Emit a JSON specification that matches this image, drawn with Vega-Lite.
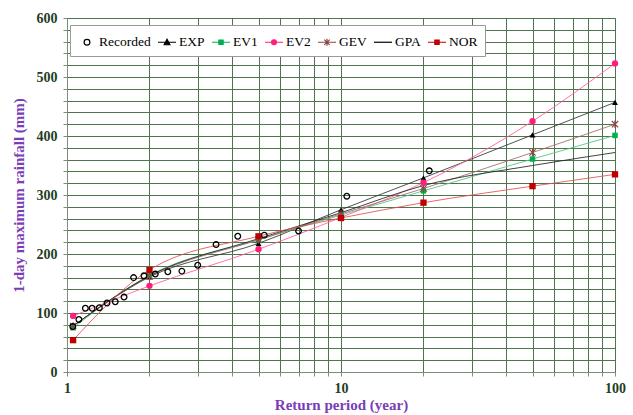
{
  "$schema": "https://vega.github.io/schema/vega-lite/v6.json",
  "width": 548,
  "height": 354,
  "autosize": {"type": "none"},
  "padding": {"left": 67, "top": 18, "right": 18, "bottom": 43},
  "background": "white",
  "datasets": {
    "fitted": [
      {"T": 1.0526, "value": 78, "series": "EXP"},
      {"T": 2, "value": 161, "series": "EXP"},
      {"T": 5, "value": 218, "series": "EXP"},
      {"T": 10, "value": 275, "series": "EXP"},
      {"T": 20, "value": 329, "series": "EXP"},
      {"T": 50, "value": 402, "series": "EXP"},
      {"T": 100, "value": 457, "series": "EXP"},
      {"T": 1.0526, "value": 75, "series": "EV1"},
      {"T": 2, "value": 164, "series": "EV1"},
      {"T": 5, "value": 224, "series": "EV1"},
      {"T": 10, "value": 266, "series": "EV1"},
      {"T": 20, "value": 307, "series": "EV1"},
      {"T": 50, "value": 361, "series": "EV1"},
      {"T": 100, "value": 401, "series": "EV1"},
      {"T": 1.0526, "value": 95, "series": "EV2"},
      {"T": 2, "value": 146, "series": "EV2"},
      {"T": 5, "value": 208, "series": "EV2"},
      {"T": 10, "value": 262, "series": "EV2"},
      {"T": 20, "value": 321, "series": "EV2"},
      {"T": 50, "value": 425, "series": "EV2"},
      {"T": 100, "value": 523, "series": "EV2"},
      {"T": 1.0526, "value": 78, "series": "GEV"},
      {"T": 2, "value": 162, "series": "GEV"},
      {"T": 5, "value": 224, "series": "GEV"},
      {"T": 10, "value": 268, "series": "GEV"},
      {"T": 20, "value": 311, "series": "GEV"},
      {"T": 50, "value": 372, "series": "GEV"},
      {"T": 100, "value": 420, "series": "GEV"},
      {"T": 1.0526, "value": 78, "series": "GPA"},
      {"T": 2, "value": 163, "series": "GPA"},
      {"T": 5, "value": 226, "series": "GPA"},
      {"T": 10, "value": 270, "series": "GPA"},
      {"T": 20, "value": 316, "series": "GPA"},
      {"T": 50, "value": 350, "series": "GPA"},
      {"T": 100, "value": 372, "series": "GPA"},
      {"T": 1.0526, "value": 54, "series": "NOR"},
      {"T": 2, "value": 173, "series": "NOR"},
      {"T": 5, "value": 230, "series": "NOR"},
      {"T": 10, "value": 261, "series": "NOR"},
      {"T": 20, "value": 287, "series": "NOR"},
      {"T": 50, "value": 315, "series": "NOR"},
      {"T": 100, "value": 335, "series": "NOR"}
    ],
    "recorded": [
      {"T": 1.05, "value": 77},
      {"T": 1.105, "value": 89},
      {"T": 1.167, "value": 108},
      {"T": 1.235, "value": 108},
      {"T": 1.3125, "value": 109},
      {"T": 1.4, "value": 117},
      {"T": 1.5, "value": 119},
      {"T": 1.615, "value": 127},
      {"T": 1.75, "value": 160},
      {"T": 1.909, "value": 163},
      {"T": 2.1, "value": 166},
      {"T": 2.333, "value": 170},
      {"T": 2.625, "value": 171},
      {"T": 3, "value": 181},
      {"T": 3.5, "value": 216},
      {"T": 4.2, "value": 230},
      {"T": 5.25, "value": 232},
      {"T": 7, "value": 239},
      {"T": 10.5, "value": 298},
      {"T": 21, "value": 341}
    ],
    "legendrows": [
      {"series": "Recorded"},
      {"series": "EXP"},
      {"series": "EV1"},
      {"series": "EV2"},
      {"series": "GEV"},
      {"series": "GPA"},
      {"series": "NOR"}
    ]
  },
  "encoding": {
    "x": {
      "field": "T",
      "type": "quantitative",
      "scale": {"type": "log", "domain": [1, 100], "nice": false},
      "axis": {
        "title": "Return period (year)",
        "values": [1, 2, 3, 4, 5, 6, 7, 8, 9, 10, 20, 30, 40, 50, 60, 70, 80, 90, 100],
        "labelExpr": "indexof([1, 10, 100], datum.value) >= 0 ? format(datum.value, 'd') : ''",
        "labelOverlap": false,
        "labelFlush": false,
        "labelPadding": 5,
        "titlePadding": 2,
        "tickSize": 4
      }
    },
    "y": {
      "field": "value",
      "type": "quantitative",
      "scale": {"domain": [0, 600], "nice": false},
      "axis": {
        "title": "1-day maximum rainfall (mm)",
        "values": [0, 20, 40, 60, 80, 100, 120, 140, 160, 180, 200, 220, 240, 260, 280, 300, 320, 340, 360, 380, 400, 420, 440, 460, 480, 500, 520, 540, 560, 580, 600],
        "labelExpr": "datum.value % 100 == 0 ? format(datum.value, 'd') : ''",
        "labelOverlap": false,
        "labelPadding": 6,
        "titlePadding": 10,
        "tickSize": 4
      }
    }
  },
  "layer": [
    {
      "data": {"name": "fitted"},
      "mark": {"type": "line", "interpolate": "monotone", "strokeWidth": 1, "opacity": 0.85},
      "encoding": {
        "color": {
          "field": "series",
          "type": "nominal",
          "scale": {
            "domain": ["EXP", "EV1", "EV2", "GEV", "GPA", "NOR"],
            "range": ["#333333", "#4cc47c", "#ff5c9a", "#a06a6a", "#222222", "#e05050"]
          },
          "legend": null
        }
      }
    },
    {
      "data": {"name": "fitted"},
      "transform": [{"filter": "datum.series == 'EXP'"}],
      "mark": {"type": "point", "shape": "triangle-up", "filled": true, "size": 35, "color": "#000000", "opacity": 1}
    },
    {
      "data": {"name": "fitted"},
      "transform": [{"filter": "datum.series == 'EV1'"}],
      "mark": {"type": "point", "shape": "square", "filled": true, "size": 30, "color": "#00b050", "opacity": 1}
    },
    {
      "data": {"name": "fitted"},
      "transform": [{"filter": "datum.series == 'GEV'"}],
      "mark": {"type": "point", "shape": "M-1,-1L1,1M-1,1L1,-1M0,-1.2V1.2", "filled": false, "size": 40, "color": "#8b4545", "strokeWidth": 1.2, "opacity": 1}
    },
    {
      "data": {"name": "fitted"},
      "transform": [{"filter": "datum.series == 'EV2'"}],
      "mark": {"type": "point", "shape": "circle", "filled": true, "size": 40, "color": "#ff1f7a", "opacity": 1}
    },
    {
      "data": {"name": "fitted"},
      "transform": [{"filter": "datum.series == 'NOR'"}],
      "mark": {"type": "point", "shape": "square", "filled": true, "size": 40, "color": "#c00000", "opacity": 1}
    },
    {
      "data": {"name": "recorded"},
      "mark": {"type": "point", "shape": "circle", "filled": false, "size": 32, "color": "#000000", "strokeWidth": 1.3, "opacity": 1}
    },
    {
      "data": {"name": "legendrows"},
      "transform": [{"filter": "false"}],
      "mark": {"type": "point", "filled": true, "opacity": 1, "strokeWidth": 1.2},
      "encoding": {
        "shape": {
          "field": "series",
          "type": "nominal",
          "scale": {
            "domain": ["Recorded", "EXP", "EV1", "EV2", "GEV", "GPA", "NOR"],
            "range": [
              "M0.32,0A0.32,0.32,0,1,1,-0.32,0A0.32,0.32,0,1,1,0.32,0Z",
              "M-1,0H1M-0.32,0.28L0,-0.32L0.32,0.28Z",
              "M-1,0H1M-0.24,-0.24H0.24V0.24H-0.24Z",
              "M-1,0H1M0.27,0A0.27,0.27,0,1,1,-0.27,0A0.27,0.27,0,1,1,0.27,0Z",
              "M-1,0H1M-0.3,-0.3L0.3,0.3M-0.3,0.3L0.3,-0.3M0,-0.38V0.38",
              "M-1,0H1",
              "M-1,0H1M-0.24,-0.24H0.24V0.24H-0.24Z"
            ]
          },
          "legend": {"title": null}
        },
        "fill": {
          "field": "series",
          "type": "nominal",
          "scale": {
            "domain": ["Recorded", "EXP", "EV1", "EV2", "GEV", "GPA", "NOR"],
            "range": ["#ffffff", "#000000", "#00b050", "#ff1f7a", "#8b4545", "#000000", "#c00000"]
          },
          "legend": {"title": null}
        },
        "stroke": {
          "field": "series",
          "type": "nominal",
          "scale": {
            "domain": ["Recorded", "EXP", "EV1", "EV2", "GEV", "GPA", "NOR"],
            "range": ["#000000", "#000000", "#00b050", "#ff1f7a", "#8b4545", "#000000", "#c00000"]
          },
          "legend": {"title": null}
        }
      }
    }
  ],
  "config": {
    "view": {"stroke": "#8c9c8c", "strokeWidth": 1},
    "axis": {
      "labelFont": "Liberation Serif",
      "labelFontWeight": "bold",
      "labelFontSize": 14,
      "labelColor": "#1f3d1f",
      "titleFont": "Liberation Serif",
      "titleFontWeight": "bold",
      "titleFontSize": 15,
      "titleColor": "#7a3db8",
      "gridColor": "#4e744e",
      "gridOpacity": 1,
      "gridWidth": 1,
      "domainColor": "#7a8f7a",
      "tickColor": "#7a8f7a"
    },
    "legend": {
      "orient": "none",
      "legendX": 3,
      "legendY": 7,
      "direction": "horizontal",
      "columns": 7,
      "fillColor": "#ffffff",
      "strokeColor": "#999999",
      "padding": 7,
      "symbolSize": 324,
      "symbolStrokeWidth": 1.2,
      "symbolOpacity": 1,
      "labelFont": "Liberation Serif",
      "labelFontSize": 13.5,
      "labelColor": "#000000",
      "labelOffset": 2,
      "columnPadding": 4,
      "rowPadding": 2
    }
  }
}
